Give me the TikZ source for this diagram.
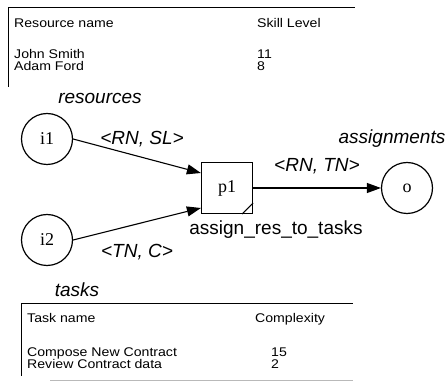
\documentclass[tikz,border=0pt]{standalone}
\usepackage{fontspec}
\setmainfont{Liberation Sans}
\newfontfamily\serifF{Liberation Serif}
\newfontfamily\tblF[FakeStretch=1.12]{Liberation Sans}
\usetikzlibrary{arrows.meta}
\begin{document}
\begin{tikzpicture}[x=1pt,y=-1pt,
 place/.style={circle,draw,line width=1.2pt,minimum size=51pt,inner sep=0pt,font=\serifF\fontsize{18}{20}\selectfont},
 trans/.style={rectangle,draw,line width=1.2pt,minimum size=51pt,inner sep=0pt,font=\serifF\fontsize{18}{20}\selectfont},
 arc/.style={line width=1.1pt,-{Triangle[length=14pt,width=10pt]}},
 lbl/.style={font=\fontsize{19}{22}\selectfont\itshape,inner sep=0pt,anchor=base},
 plain/.style={font=\fontsize{19}{22}\selectfont,inner sep=0pt,anchor=base},
 tbl/.style={font=\tblF\fontsize{12.6}{14}\selectfont,inner sep=0pt,anchor=base west},
 rulel/.style={line width=0.8pt}]
\useasboundingbox (0,0) rectangle (448,382);

% top table
\draw[rulel] (8,87) -- (8,7) -- (355,7);
\node[tbl] (rn) at (14,28) {Resource name};
\node[tbl] (sl) at (257,28) {Skill Level};
\node[tbl] (js) at (14,59) {John Smith};
\node[tbl] (af) at (14,71) {Adam Ford};
\node[tbl] (v11) at (257,59) {11};
\node[tbl] (v8) at (257,71) {8};

% net
\node[place] (i1) at (47,139) {i1};
\node[place] (i2) at (47,240) {i2};
\node[trans] (p1) at (227,188) {p1};
\node[place] (o) at (407,188) {o};
\draw[line width=1pt] ([xshift=-11pt]p1.south east) -- ([yshift=11pt]p1.south east);

\draw[arc] (i1.east) -- ([yshift=15pt]p1.west);
\draw[arc] (i2.east) -- ([yshift=-20pt]p1.west);
\draw[arc] (p1) -- (o);

\node[lbl] (res) at (100,104) {resources};
\node[lbl] (rnsl) at (142,145) {<RN, SL>};
\node[lbl] (asg) at (392,144) {assignments};
\node[lbl] (rntn) at (317,172) {<RN, TN>};
\node[plain] (art) at (276,235) {assign\_res\_to\_tasks};
\node[lbl] (tnc) at (137,258) {<TN, C>};
\node[lbl] (tsk) at (77,297) {tasks};

% bottom table
\draw[rulel] (21,376) -- (21,303) -- (353,303);
\draw[rulel,gray!55] (50,380) -- (353,380);
\node[tbl] (tn) at (27,323) {Task name};
\node[tbl] (cx) at (255,323) {Complexity};
\node[tbl] (cnc) at (27,357) {Compose New Contract};
\node[tbl] (rcd) at (27,369) {Review Contract data};
\node[tbl] (v15) at (271,357) {15};
\node[tbl] (v2) at (271,369) {2};
\end{tikzpicture}
\end{document}
